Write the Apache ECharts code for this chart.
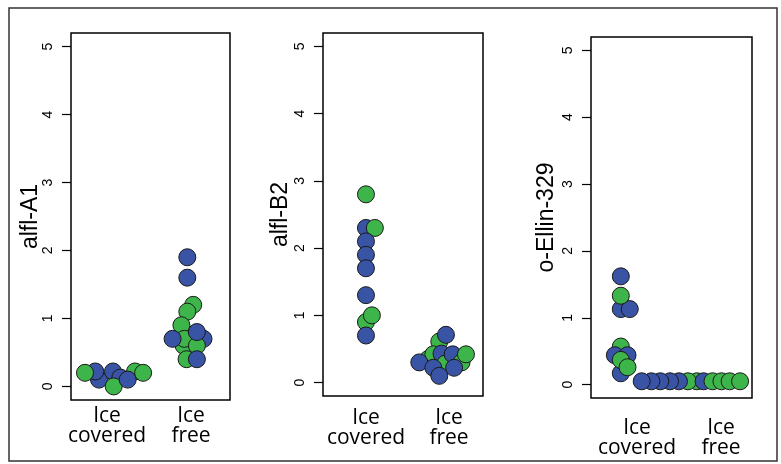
<!DOCTYPE html>
<html><head><meta charset="utf-8">
<script src="https://cdn.jsdelivr.net/npm/echarts@6/dist/echarts.min.js"></script>
<style>html,body{margin:0;padding:0;background:#fff}#c{width:781px;height:464px}</style>
</head><body><div id="c"></div>
<script>
// ---- data (x = category position + swarm offset, y = value, group b/g) ----
const categories = ['Ice\ncovered', 'Ice\nfree'];
const panelTitles = ['alfl-A1', 'alfl-B2', 'o-Ellin-329'];
const yTicks = [0, 1, 2, 3, 4, 5];

const alflA1 = [
  [0.80,0.10,'b'],[0.75,0.22,'b'],[0.61,0.20,'g'],[0.99,0.22,'b'],[1.09,0.13,'b'],[1.00,0.00,'g'],
  [1.29,0.22,'g'],[1.19,0.10,'b'],[1.40,0.20,'g'],
  [2.00,1.90,'b'],[2.00,1.60,'b'],[2.08,1.20,'g'],[2.00,1.10,'g'],[1.92,0.90,'g'],[1.95,0.60,'g'],
  [1.96,0.70,'g'],[1.80,0.70,'b'],[2.22,0.70,'b'],[2.13,0.60,'g'],[2.13,0.80,'b'],[1.99,0.40,'g'],[2.13,0.40,'b']
];
const alflB2 = [
  [1.00,2.80,'g'],[1.00,2.30,'b'],[1.12,2.30,'g'],[1.00,2.10,'b'],[1.00,1.90,'b'],[1.00,1.70,'b'],
  [1.00,1.30,'b'],[1.00,0.90,'g'],[1.08,1.00,'g'],[1.00,0.70,'b'],
  [1.99,0.61,'g'],[2.08,0.71,'b'],[1.84,0.35,'g'],[1.91,0.42,'g'],[2.02,0.43,'b'],[2.07,0.28,'g'],
  [2.17,0.42,'b'],[2.29,0.30,'g'],[2.35,0.42,'g'],[1.72,0.30,'b'],[1.91,0.22,'b'],[2.19,0.22,'b'],[1.99,0.10,'b']
];
const oEllin329 = [
  [0.82,1.62,'b'],[0.82,1.13,'b'],[0.94,1.13,'b'],[0.82,1.33,'g'],
  [0.82,0.17,'b'],[0.82,0.57,'g'],[0.74,0.44,'b'],[0.91,0.44,'b'],[0.82,0.37,'g'],[0.91,0.26,'g'],
  [1.84,0.05,'g'],[1.72,0.05,'g'],[1.93,0.05,'b'],[1.60,0.05,'b'],[2.05,0.05,'g'],[1.48,0.05,'b'],
  [2.17,0.05,'g'],[1.35,0.05,'b'],[2.28,0.05,'g'],[1.23,0.05,'b'],[2.42,0.05,'g'],[1.10,0.05,'b']
];
const panelData = [alflA1, alflB2, oEllin329];

// ---- styling / layout ----
const groupColors = { b: '#3953a5', g: '#3eb54a' };
const grids = [
  { left: 71, top: 33, width: 159, height: 367 },
  { left: 323, top: 33, width: 160, height: 363 },
  { left: 591, top: 37, width: 161, height: 361 }
];
const nameGaps = [29, 31, 33];
const labelPos = [
  [[107, 406], [191, 406]],
  [[366, 408], [449, 408]],
  [[637, 418], [721, 418]]
];

const chart = echarts.init(document.getElementById('c'), null, { renderer: 'canvas' });
const option = {
  animation: false,
  backgroundColor: '#fff',
  grid: grids.map(g => Object.assign({ show: true, borderColor: '#000', borderWidth: 1.5, backgroundColor: 'transparent' }, g)),
  xAxis: grids.map((g, i) => ({ gridIndex: i, type: 'value', min: 0.42, max: 2.58, show: false })),
  yAxis: grids.map((g, i) => ({
    gridIndex: i, type: 'value', min: -0.2, max: 5.2,
    name: panelTitles[i], nameLocation: 'middle', nameGap: nameGaps[i], nameMoveOverlap: false,
    nameTextStyle: { fontFamily: 'Liberation Sans', fontSize: 23, color: '#000' },
    axisLine: { show: false },
    splitLine: { show: false },
    axisTick: { show: true, inside: false, length: 9, customValues: yTicks, lineStyle: { color: '#000', width: 1.2 } },
    axisLabel: { customValues: yTicks, rotate: 90, margin: 16, fontFamily: 'Liberation Sans', fontSize: 14, color: '#000' }
  })),
  series: panelData.map((d, i) => ({
    type: 'scatter', xAxisIndex: i, yAxisIndex: i,
    symbol: 'circle', symbolSize: 17,
    data: d.map(p => ({ value: [p[0], p[1]], itemStyle: { color: groupColors[p[2]] } })),
    itemStyle: { borderColor: '#1a1a1a', borderWidth: 1, opacity: 1 }
  })),
  graphic: [
    { type: 'rect', shape: { x: 9, y: 8, width: 768, height: 453 }, style: { fill: 'none', stroke: '#333', lineWidth: 1.5 }, silent: true }
  ].concat(...labelPos.map(lp => lp.map((pos, j) => ({
    type: 'text', x: pos[0], y: pos[1],
    style: { text: categories[j], fontFamily: 'Open Sans', fontSize: 21, lineHeight: 20, align: 'center', verticalAlign: 'top', fill: '#000' }
  }))))
};
chart.setOption(option);
</script>
</body></html>
